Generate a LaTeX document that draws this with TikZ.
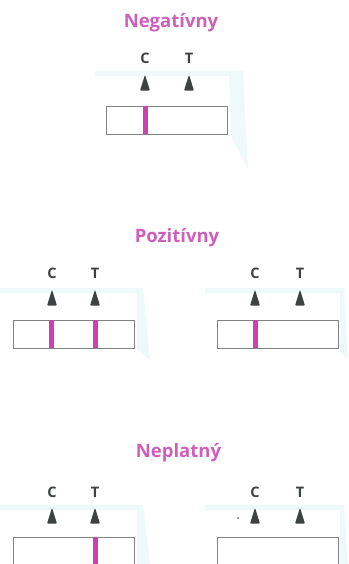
\documentclass[tikz,border=0pt]{standalone}
\usepackage{fontspec}
\setmainfont{Open Sans}
\usetikzlibrary{shapes.geometric}
\definecolor{titlepink}{RGB}{206,96,186}
\definecolor{linepink}{RGB}{204,64,178}
\definecolor{tridark}{RGB}{62,66,66}
\definecolor{boxgray}{RGB}{130,130,130}
\definecolor{glowcyan}{RGB}{200,238,240}
\tikzset{
  title/.style={font=\bfseries\fontsize{18.5}{20}\selectfont, text=titlepink, inner sep=0pt, anchor=base},
  lbl/.style={font=\bfseries\fontsize{14.5}{16}\selectfont, text=tridark, inner sep=0pt},
  tri/.style={isosceles triangle, isosceles triangle stretches, shape border rotate=90,
     minimum width=10pt, minimum height=16pt, inner sep=0pt, fill=tridark, draw=none,
     rounded corners=1pt},
  strip/.style={draw=boxgray, line width=0.7pt, fill=white, minimum width=121pt, minimum height=28pt, inner sep=0pt},
  band/.style={fill=linepink, draw=none, minimum width=5pt, minimum height=27.3pt, inner sep=0pt},
  glow/.style={fill=glowcyan, draw=none, opacity=0.3}
}
\begin{document}
\begin{tikzpicture}[x=1pt,y=-1pt]
\useasboundingbox (0,0) rectangle (348,564);
\clip (0,0) rectangle (348,564);
\fill[white] (0,0) rectangle (348,564);
% faint glows
\fill[glow] (95,71) -- (243,71) -- (248,170) -- (232,138) -- (229,76) -- (95,76) -- cycle;
\fill[glow] (0,288) -- (143,288) -- (150,360) -- (137,350) -- (137,293) -- (0,293) -- cycle;
\fill[glow] (205,288) -- (344,288) -- (348,360) -- (340,350) -- (340,293) -- (205,293) -- cycle;
\fill[glow] (0,505) -- (143,505) -- (150,564) -- (137,564) -- (137,510) -- (0,510) -- cycle;
\fill[glow] (205,505) -- (344,505) -- (348,564) -- (340,564) -- (340,510) -- (205,510) -- cycle;

% Negativny
\node[title] (t1) at (171,28) {Negatívny};
\node[lbl] (c1) at (145,58.5) {C};
\node[lbl] (tt1) at (189,58.5) {T};
\node[tri] (ac1) at (145,87) {};
\node[tri] (at1) at (189,87) {};
\node[strip] (s1) at (167,120) {};
\node[band] (b1) at (145.5,120) {};

% Pozitivny
\node[title] (t2) at (177,242) {Pozitívny};
\node[lbl] (c2) at (52,273) {C};
\node[lbl] (tt2) at (95,273) {T};
\node[tri] (ac2) at (52,302) {};
\node[tri] (at2) at (95,302) {};
\node[strip] (s2) at (74,334) {};
\node[band] (b2c) at (51.7,334) {};
\node[band] (b2t) at (95,334) {};

\node[lbl] (c3) at (255,273) {C};
\node[lbl] (tt3) at (300,273) {T};
\node[tri] (ac3) at (255,302) {};
\node[tri] (at3) at (300,302) {};
\node[strip] (s3) at (277.5,334) {};
\node[band] (b3c) at (255,334) {};

% Neplatny
\node[title] (t4) at (178.5,457) {Neplatný};
\node[lbl] (c4) at (52,492) {C};
\node[lbl] (tt4) at (95,492) {T};
\node[tri] (ac4) at (52,520) {};
\node[tri] (at4) at (95,520) {};
\node[strip] (s4) at (74,551) {};
\node[band] (b4t) at (95,551) {};

\node[lbl] (c5) at (255,492) {C};
\node[lbl] (tt5) at (300,492) {T};
\node[tri] (ac5) at (255,520) {};
\node[tri] (at5) at (300,520) {};
\node[strip] (s5) at (277.5,551) {};
\fill[tridark] (238,518) circle (0.8pt);
\end{tikzpicture}
\end{document}
